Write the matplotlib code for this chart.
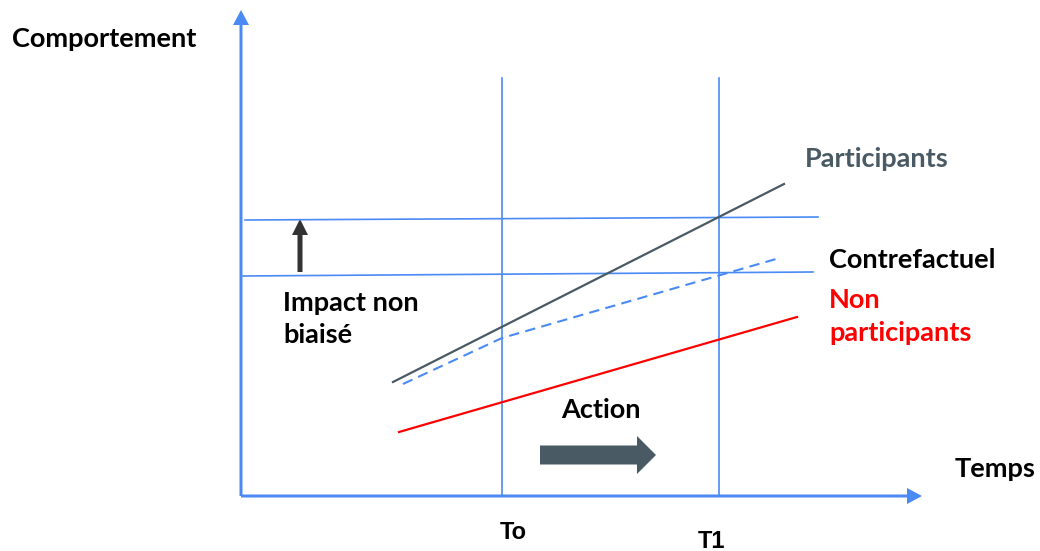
import matplotlib
matplotlib.use('Agg')
import matplotlib.pyplot as plt

# schematic diagram, units ~ pixels from the axes origin
blue = '#4a8af4'
grey = '#4a5a64'
red = '#ff0000'

x_axis_end = 681
y_axis_end = 486
t0 = 261
t1 = 478
vline_top = 418

upper_x = [4, 577]
upper_y = [276, 279]
lower_x = [2, 572]
lower_y = [220, 224]

part_x = [152, 543]
part_y = [114, 312]
contre_x = [162, 261, 535]
contre_y = [112, 158, 237]
nonpart_x = [158, 556]
nonpart_y = [64, 179]

impact_x = 59
impact_y = [224, 277]
action_x = [299, 415]
action_y = 41

fig = plt.figure(figsize=(10.4, 5.51), dpi=100, facecolor='white')
ax = fig.add_axes([0, 0, 1, 1])
ax.set_xlim(-241, 799)
ax.set_ylim(-55, 496)
ax.axis('off')

# axes with arrow heads
ax.arrow(0, 0, 0, y_axis_end, width=3, head_width=16, head_length=15,
         length_includes_head=True, color=blue, lw=0)
ax.arrow(0, 0, x_axis_end, 0, width=3, head_width=16, head_length=15,
         length_includes_head=True, color=blue, lw=0)

# time markers
ax.plot([t0, t0], [0, vline_top], color=blue, lw=1.2)
ax.plot([t1, t1], [0, vline_top], color=blue, lw=1.2)

# horizontal reference lines
ax.plot(upper_x, upper_y, color=blue, lw=1.2)
ax.plot(lower_x, lower_y, color=blue, lw=1.2)

ax.plot(part_x, part_y, color=grey, lw=1.6)
ax.plot(contre_x, contre_y, color=blue, lw=1.5, ls=(0, (5, 3)))
ax.plot(nonpart_x, nonpart_y, color=red, lw=1.6)

ax.arrow(impact_x, impact_y[0], 0, impact_y[1] - impact_y[0], width=5,
         head_width=16, head_length=16, length_includes_head=True,
         color='#333333', lw=0)
ax.arrow(action_x[0], action_y, action_x[1] - action_x[0], 0, width=19,
         head_width=38, head_length=19, length_includes_head=True,
         color=grey, lw=0)

font = dict(family='Lato', weight='bold', fontsize=19.5)
ax.text(-229, 449, 'Comportement', color='black', **font)
ax.text(564, 329, 'Participants', color=grey, **font)
ax.text(588, 228, 'Contrefactuel', color='black', **font)
ax.text(588, 188, 'Non', color=red, **font)
ax.text(588, 155, 'participants', color=red, **font)
ax.text(42, 185, 'Impact non', color='black', **font)
ax.text(42, 153, 'biaisé', color='black', **font)
ax.text(320, 78, 'Action', color='black', **font)
ax.text(714, 19, 'Temps', color='black', **font)

tfont = dict(family='Liberation Sans', weight='bold', fontsize=17)
ax.text(259, -43, 'To', color='black', **tfont)
ax.text(457, -52, 'T1', color='black', **tfont)

plt.savefig('out.png', facecolor='white', dpi=100)
